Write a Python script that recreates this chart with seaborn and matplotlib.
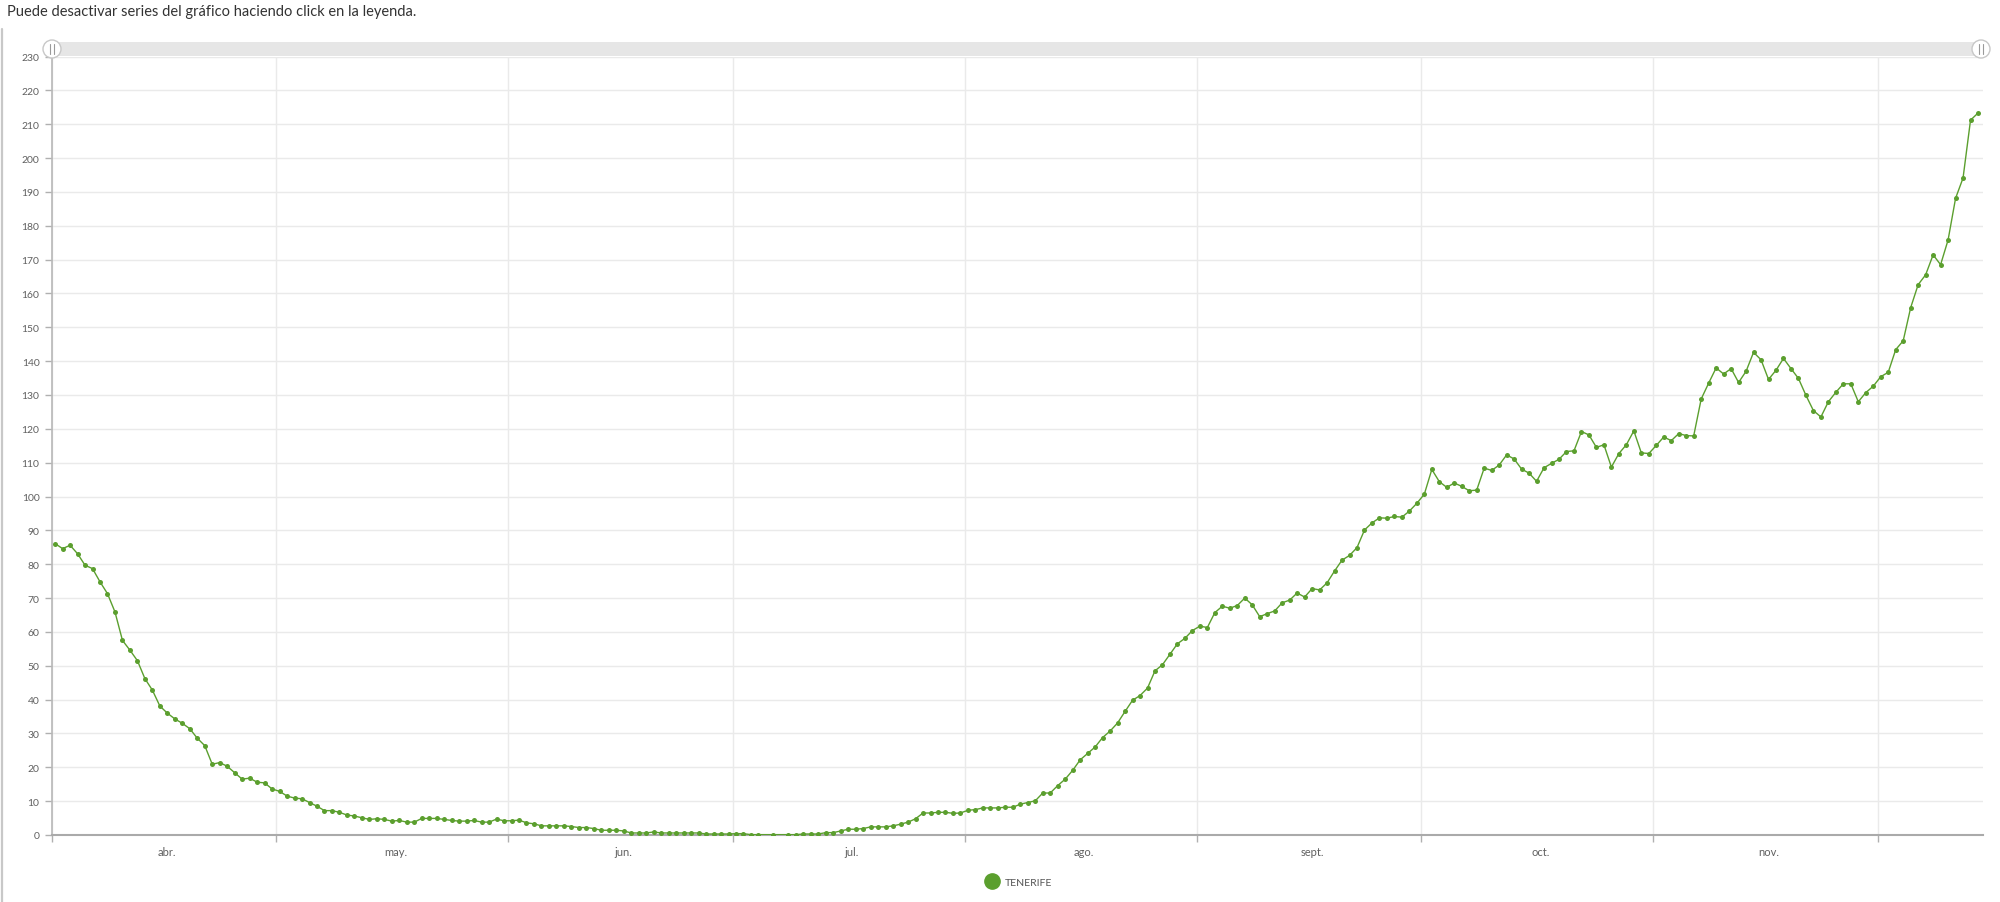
import numpy as np
import pandas as pd
import seaborn as sns
import matplotlib
matplotlib.use('Agg')  # sin pantalla
import matplotlib.pyplot as plt
import matplotlib.dates as mdates
from matplotlib.lines import Line2D
from matplotlib.patches import Rectangle, Circle
from matplotlib.ticker import NullFormatter

# Valores diarios (1 abr. -> 14 dic.)
casos_abr = [86.1, 84.6, 85.6, 83.1, 79.7, 78.7, 74.8, 71.3, 65.9, 57.5,
             54.6, 51.5, 46.2, 42.8, 38.1, 36.0, 34.3, 33.0, 31.4, 28.6,
             26.4, 20.9, 21.4, 20.3, 18.4, 16.5, 16.8, 15.6, 15.4, 13.6]
casos_may = [12.9, 11.5, 10.9, 10.7, 9.6, 8.5, 7.2, 7.2, 6.7, 5.9,
             5.6, 5.1, 4.6, 4.8, 4.6, 4.1, 4.3, 3.8, 3.8, 4.9,
             4.9, 4.9, 4.6, 4.3, 4.1, 4.1, 4.3, 3.8, 3.8, 4.7, 4.2]
casos_jun = [4.2, 4.4, 3.6, 3.3, 2.7, 2.7, 2.7, 2.7, 2.5, 2.2,
             2.2, 1.9, 1.4, 1.4, 1.4, 1.2, 0.6, 0.6, 0.6, 0.9,
             0.6, 0.6, 0.6, 0.6, 0.6, 0.6, 0.3, 0.3, 0.3, 0.3]
casos_jul = [0.4, 0.4, 0.1, 0.1, np.nan, 0.1, np.nan, 0.1, 0.1, 0.3,
             0.3, 0.3, 0.7, 0.7, 1.2, 1.7, 1.7, 1.9, 2.4, 2.4,
             2.4, 2.7, 3.2, 3.8, 4.8, 6.5, 6.5, 6.7, 6.7, 6.4, 6.5]
casos_ago = [7.3, 7.5, 8.0, 8.0, 8.0, 8.2, 8.2, 9.1, 9.6, 10.1,
             12.4, 12.4, 14.6, 16.5, 19.1, 22.2, 24.1, 26.0, 28.8, 30.7,
             33.1, 36.5, 39.8, 41.2, 43.4, 48.5, 50.3, 53.4, 56.5, 58.1, 60.4]
casos_sep = [61.7, 61.3, 65.7, 67.6, 67.0, 67.8, 70.0, 68.0, 64.5, 65.4,
             66.2, 68.6, 69.4, 71.5, 70.3, 72.8, 72.4, 74.5, 78.0, 81.2,
             82.6, 84.9, 90.1, 92.2, 93.7, 93.6, 94.1, 93.9, 95.7, 98.0]
casos_oct = [100.7, 108.0, 104.4, 102.7, 104.0, 103.0, 101.7, 101.9, 108.4, 107.7,
             109.3, 112.3, 111.1, 108.1, 106.9, 104.5, 108.5, 109.8, 111.0, 113.3,
             113.5, 119.2, 118.2, 114.5, 115.3, 108.7, 112.7, 115.3, 119.4, 112.9, 112.7]
casos_nov = [115.1, 117.6, 116.5, 118.6, 118.0, 117.9, 128.8, 133.5, 138.0, 136.2,
             137.8, 133.7, 137.0, 142.6, 140.4, 134.6, 137.3, 140.8, 137.8, 134.9,
             129.9, 125.4, 123.5, 128.0, 130.8, 133.3, 133.3, 128.0, 130.7, 132.6]
casos_dic = [135.4, 136.7, 143.4, 146.0, 155.8, 162.6, 165.5, 171.4, 168.5, 175.8,
             188.1, 194.1, 211.2, 213.3]

serie = "TENERIFE"
meses = ["abr.", "may.", "jun.", "jul.", "ago.", "sept.", "oct.", "nov."]
titulo = "Puede desactivar series del gráfico haciendo click en la leyenda."

valores = (casos_abr + casos_may + casos_jun + casos_jul + casos_ago
           + casos_sep + casos_oct + casos_nov + casos_dic)
fechas = pd.date_range("2020-04-01", periods=len(valores), freq="D") + pd.Timedelta(hours=10)
df = pd.DataFrame({"fecha": fechas, "casos": valores})

sns.set_theme(style="white")
plt.rcParams['font.family'] = ['Lato', 'DejaVu Sans']

verde = "#5b9f2e"
gris_txt = "#606060"
W, H = 2000, 903

fig = plt.figure(figsize=(W / 100, H / 100), dpi=100)
ax = fig.add_axes([52 / W, 1 - 836 / H, (1983 - 52) / W, (836 - 57.5) / H])

sns.lineplot(data=df, x="fecha", y="casos", ax=ax, color=verde, linewidth=1.0,
             marker="o", markersize=3.6, markeredgewidth=0, legend=False, zorder=3)

ax.set_xlim(mdates.date2num(pd.Timestamp("2020-04-01")),
            mdates.date2num(pd.Timestamp("2020-12-15 02:00")))
ax.set_ylim(0, 230)
ax.set_xlabel("")
ax.set_ylabel("")

# ticks: meses (inicio = rejilla, centro = etiqueta)
inicios = pd.date_range("2020-04-01", "2020-12-01", freq="MS")
centros = [inicios[i] + (inicios[i + 1] - inicios[i]) / 2 + pd.Timedelta(hours=10)
           for i in range(len(meses))]
ax.set_xticks(mdates.date2num(inicios))
ax.xaxis.set_major_formatter(NullFormatter())
ax.set_xticks(mdates.date2num(centros), minor=True)
ax.set_xticklabels(meses, minor=True)
ax.set_yticks(np.arange(0, 231, 10))

ax.tick_params(axis='x', which='major', length=5, width=1, color='#b0b0b0', direction='out')
ax.tick_params(axis='x', which='minor', length=0, pad=8, labelsize=8, labelcolor=gris_txt)
ax.tick_params(axis='y', length=5, width=1, color='#b0b0b0', direction='out',
               pad=4, labelsize=7.5, labelcolor=gris_txt)
ax.tick_params(left=True, bottom=True)

ax.grid(True, which='major', color='#eaeaea', linewidth=1)
ax.set_axisbelow(True)
for lado in ['top', 'right']:
    ax.spines[lado].set_visible(False)
ax.spines['left'].set_color('#b8b8b8')
ax.spines['bottom'].set_color('#aaaaaa')
ax.spines['left'].set_linewidth(1.2)
ax.spines['bottom'].set_linewidth(1.5)

# capa superior en pixeles: barra de desplazamiento y borde
capa = fig.add_axes([0, 0, 1, 1], zorder=5)
capa.set_xlim(0, W)
capa.set_ylim(H, 0)
capa.axis('off')
capa.patch.set_alpha(0)
capa.add_patch(Rectangle((52, 43), 1931, 14, facecolor='#e6e6e6', edgecolor='none'))
for xc in [52, 1981]:
    capa.add_patch(Circle((xc, 50), 9, facecolor='white', edgecolor='#c8c8c8', linewidth=1))
    capa.plot([xc - 2, xc - 2], [45, 55], color='#9a9a9a', linewidth=0.8)
    capa.plot([xc + 2, xc + 2], [45, 55], color='#9a9a9a', linewidth=0.8)
capa.plot([1.5, 1.5], [30, H], color='#c8c8c8', linewidth=1.6)

fig.text(7 / W, 1 - 12 / H, titulo, ha='left', va='center', fontsize=10.5, color='#333333')

mango = Line2D([], [], marker='o', color=verde, linestyle='none', markersize=11)
fig.legend([mango], [serie], loc='center', bbox_to_anchor=(1017 / W, 1 - 883 / H),
           frameon=False, fontsize=7.5, labelcolor='#555555', handletextpad=0.2)

fig.savefig("out.png", dpi=100)
